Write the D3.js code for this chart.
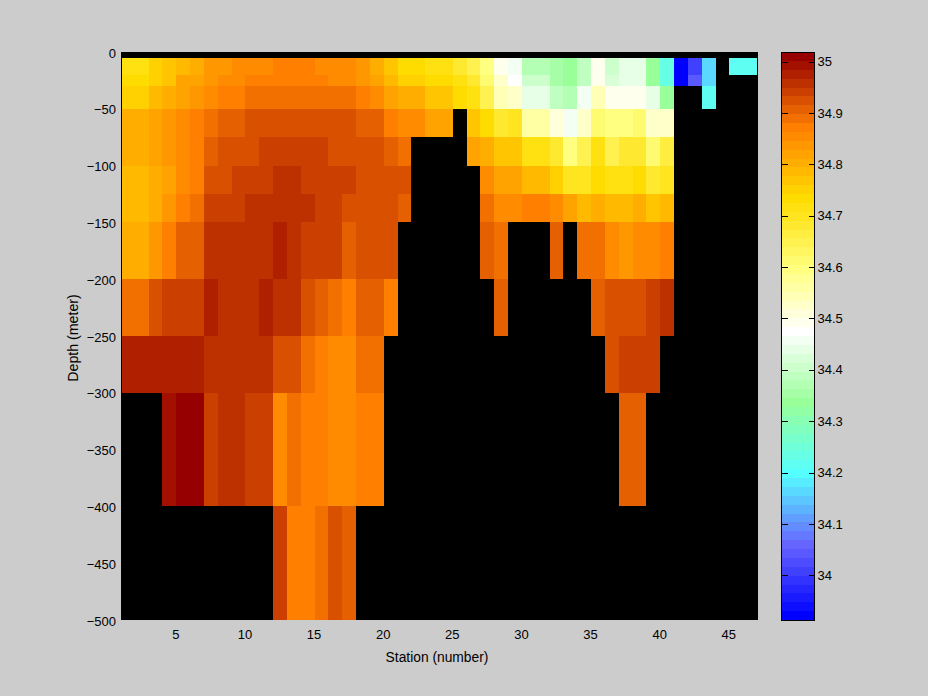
<!DOCTYPE html>
<html><head><meta charset="utf-8">
<script src="https://cdn.jsdelivr.net/npm/d3@7"></script>
<style>
html,body{margin:0;padding:0;background:#ccc;}
svg{display:block;}
text{font-family:"Liberation Sans",Arial,sans-serif;font-size:13px;fill:#000;}
</style></head><body><svg id="c" width="928" height="696"></svg>
<script>
const _ = null;
const depthEdges = [-5,-20,-30,-50,-75,-100,-125,-150,-200,-250,-300,-400,-500];
const stationTicks = [5,10,15,20,25,30,35,40,45];
const depthTicks = [0,-50,-100,-150,-200,-250,-300,-350,-400,-450,-500];
const barTicks = [34,34.1,34.2,34.3,34.4,34.5,34.6,34.7,34.8,34.9,35];
const cmapStops = [0,8,16,24,32,39,47,55,63];
const cmapColors = ["#0000ff","#6666ff","#55ffff","#99ff99","#ffffff","#ffff80","#ffdc00","#ff8000","#960000"];
const salMin = 33.913, salMax = 35.0185;

const s5_20 = [34.716,34.716,34.75,34.768,34.785,34.802,34.837,34.837,34.854,34.854,34.854,34.871,34.871,34.871,34.854,34.854,34.854,34.837,34.802,34.768,34.733,34.733,34.716,34.716,34.681,34.647,34.595,34.491,34.457,34.371,34.371,34.353,34.336,34.388,34.491,34.405,34.44,34.44,34.336,34.232,33.922,34.008,34.163,_,34.215,34.215];
const s20_30 = [34.733,34.733,34.75,34.768,34.819,34.819,34.837,34.854,34.854,34.871,34.871,34.871,34.871,34.871,34.871,34.854,34.854,34.837,34.819,34.785,34.75,34.75,34.733,34.733,34.716,34.681,34.612,34.526,34.474,34.405,34.405,34.353,34.336,34.388,34.491,34.422,34.44,34.44,34.336,34.232,33.922,34.043,34.163,_,_,_];
const s30_50 = [34.75,34.75,34.785,34.802,34.819,34.837,34.854,34.871,34.871,34.888,34.888,34.888,34.888,34.888,34.888,34.888,34.888,34.871,34.854,34.819,34.802,34.802,34.768,34.768,34.733,34.716,34.647,34.543,34.526,34.44,34.44,34.388,34.371,34.457,34.543,34.491,34.491,34.491,34.44,34.336,_,_,34.215,_,_,_];
const s50_75 = [34.802,34.802,34.819,34.837,34.854,34.871,34.888,34.906,34.906,34.923,34.923,34.923,34.923,34.923,34.923,34.923,34.923,34.906,34.906,34.871,34.854,34.854,34.819,34.819,_,34.768,34.733,34.681,34.698,34.56,34.56,34.509,34.457,34.526,34.612,34.595,34.595,34.612,34.526,34.526,_,_,_,_,_,_];
const s75_100 = [34.802,34.802,34.819,34.837,34.854,34.871,34.906,34.923,34.923,34.923,34.94,34.94,34.94,34.94,34.94,34.923,34.923,34.923,34.923,34.906,34.888,_,_,_,_,34.819,34.802,34.768,34.768,34.716,34.716,34.681,34.595,34.647,34.716,34.647,34.681,34.681,34.612,34.664,_,_,_,_,_,_];
const s100_125 = [34.785,34.785,34.802,34.819,34.854,34.871,34.923,34.923,34.94,34.94,34.94,34.957,34.957,34.94,34.94,34.94,34.94,34.923,34.923,34.923,34.923,_,_,_,_,_,34.854,34.819,34.819,34.785,34.785,34.75,34.698,34.698,34.733,34.716,34.716,34.733,34.681,34.698,_,_,_,_,_,_];
const s125_150 = [34.785,34.785,34.802,34.837,34.871,34.888,34.94,34.94,34.94,34.957,34.957,34.957,34.957,34.957,34.94,34.94,34.923,34.923,34.923,34.923,34.906,_,_,_,_,_,34.888,34.854,34.854,34.871,34.871,34.854,34.819,34.785,34.802,34.785,34.785,34.802,34.768,34.785,_,_,_,_,_,_];
const s150_200 = [34.802,34.802,34.837,34.871,34.906,34.906,34.957,34.957,34.957,34.957,34.957,34.975,34.957,34.94,34.94,34.94,34.906,34.923,34.923,34.923,_,_,_,_,_,_,34.906,34.888,_,_,_,34.906,_,34.888,34.888,34.854,34.837,34.854,34.854,34.871,_,_,_,_,_,_];
const s200_250 = [34.888,34.888,34.923,34.94,34.94,34.94,34.975,34.957,34.957,34.957,34.975,34.957,34.957,34.923,34.906,34.888,34.871,34.906,34.906,34.871,_,_,_,_,_,_,_,34.906,_,_,_,_,_,_,34.906,34.923,34.923,34.923,34.94,34.957,_,_,_,_,_,_];
const s250_300 = [34.975,34.975,34.975,34.975,34.975,34.975,34.957,34.957,34.957,34.957,34.957,34.923,34.923,34.888,34.871,34.854,34.854,34.888,34.888,_,_,_,_,_,_,_,_,_,_,_,_,_,_,_,_,34.923,34.94,34.94,34.94,_,_,_,_,_,_,_];
const s300_400 = [_,_,_,34.992,35.009,35.009,34.94,34.957,34.957,34.94,34.94,34.854,34.888,34.871,34.871,34.854,34.854,34.871,34.871,_,_,_,_,_,_,_,_,_,_,_,_,_,_,_,_,_,34.906,34.906,_,_,_,_,_,_,_,_];
const s400_500 = [_,_,_,_,_,_,_,_,_,_,_,34.94,34.871,34.871,34.888,34.923,34.906,_,_,_,_,_,_,_,_,_,_,_,_,_,_,_,_,_,_,_,_,_,_,_,_,_,_,_,_,_];
const salinityRows = [s5_20,s20_30,s30_50,s50_75,s75_100,s100_125,s125_150,s150_200,s200_250,s250_300,s300_400,s400_500];

const svg = d3.select("#c");
const L=121,R=757,T=52,B=620, barL=781.5, barR=814.5;
const x = d3.scaleLinear().domain([1,47]).range([L,R]);
const y = d3.scaleLinear().domain([-500,0]).range([B,T]);

const stopScale = d3.scaleLinear().domain(cmapStops).range(cmapColors).interpolate(d3.interpolateRgb);
const levels = d3.range(64).map(i=>stopScale(i));
const level = d3.scaleQuantize().domain([salMin,salMax]).range(levels);

svg.append("rect").attr("x",L).attr("y",T).attr("width",R-L+0.5).attr("height",B-T).attr("fill","#000").attr("shape-rendering","crispEdges");

const cells=[];
salinityRows.forEach((row,r)=>row.forEach((v,c)=>{ if(v!==null) cells.push({v,c,r}); }));
svg.append("g").attr("shape-rendering","crispEdges").selectAll("rect").data(cells).join("rect")
  .attr("x",d=>Math.round(x(d.c+1)))
  .attr("width",d=>Math.round(x(d.c+2))-Math.round(x(d.c+1)))
  .attr("y",d=>Math.round(y(depthEdges[d.r])))
  .attr("height",d=>Math.round(y(depthEdges[d.r+1]))-Math.round(y(depthEdges[d.r])))
  .attr("fill",d=>level(d.v));

svg.append("line").attr("x1",L+0.5).attr("x2",L+0.5).attr("y1",T).attr("y2",B).attr("stroke","#000").attr("shape-rendering","crispEdges");

const ff='"Liberation Sans",Arial,sans-serif';
const xAxis = d3.axisBottom(x).tickValues(stationTicks).tickSize(0).tickPadding(10);
const gx = svg.append("g").attr("transform",`translate(-1,${B})`).call(xAxis);
gx.select(".domain").remove();
gx.selectAll("text").style("font-size","13px").style("font-family",ff).attr("fill","#000");

const yAxis = d3.axisLeft(y).tickValues(depthTicks).tickSize(0).tickPadding(5);
const gy = svg.append("g").attr("transform",`translate(${L},1)`).call(yAxis);
gy.select(".domain").remove();
gy.selectAll("text").style("font-size","13px").style("font-family",ff).attr("fill","#000");

svg.append("text").attr("x",437).attr("y",662).attr("text-anchor","middle").style("font-size","13.8px").text("Station (number)");
svg.append("text").attr("transform","translate(78,338) rotate(-90)").attr("text-anchor","middle").style("font-size","14.2px").text("Depth (meter)");

const by = d3.scaleLinear().domain([salMin,salMax]).range([B,T]);
const h = (B-T)/64;
svg.append("g").attr("shape-rendering","crispEdges").selectAll("rect").data(levels).join("rect")
  .attr("x",barL).attr("width",barR-barL)
  .attr("y",(d,i)=>Math.round(B-(i+1)*h))
  .attr("height",(d,i)=>Math.round(B-i*h)-Math.round(B-(i+1)*h))
  .attr("fill",d=>d);
svg.append("rect").attr("x",barL).attr("y",T).attr("width",barR-barL).attr("height",B-T)
  .attr("fill","none").attr("stroke","#000").attr("shape-rendering","crispEdges");

const bAxis = d3.axisRight(by).tickValues(barTicks).tickFormat(d=>d3.format("~g")(d)).tickSize(-6).tickPadding(10);
const gb = svg.append("g").attr("transform",`translate(${barR},0)`).call(bAxis);
gb.select(".domain").remove();
gb.selectAll("line").attr("stroke","#000").attr("shape-rendering","crispEdges");
gb.selectAll("text").style("font-size","13px").style("font-family",ff).attr("fill","#000").attr("x",3);
const gbl = svg.append("g").attr("transform",`translate(${barL},0)`).call(d3.axisRight(by).tickValues(barTicks).tickFormat("").tickSize(6));
gbl.select(".domain").remove();
gbl.selectAll("line").attr("stroke","#000").attr("shape-rendering","crispEdges");
</script></body></html>
